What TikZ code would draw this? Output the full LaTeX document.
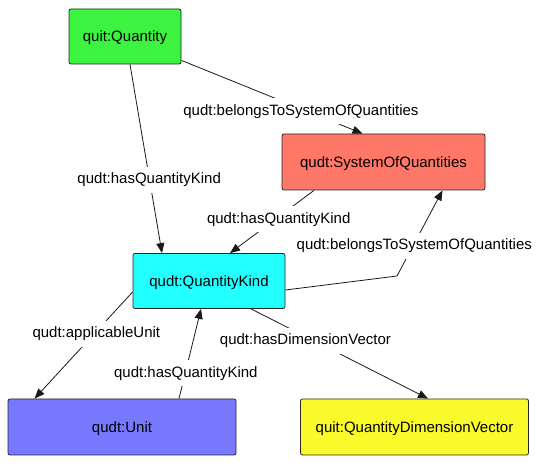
\documentclass[tikz,border=0pt]{standalone}
\usepackage{fontspec}
\setmainfont{Liberation Sans}
\usetikzlibrary{arrows.meta,calc}
\definecolor{cq}{HTML}{3CF33F}
\definecolor{csoq}{HTML}{FF7766}
\definecolor{cqk}{HTML}{22FFFF}
\definecolor{cunit}{HTML}{7878FF}
\definecolor{cqdv}{HTML}{FAFA2A}
\begin{document}
\begin{tikzpicture}[x=1pt,y=-1pt,
  box/.style={draw=black!85, line width=0.8pt, rounded corners=2pt, inner sep=0pt, text height=10.7pt, text depth=0pt, font=\fontsize{15}{18}\selectfont},
  rel/.style={draw=black!90, line width=0.8pt, -{Triangle[length=10pt,width=8pt]}},
  lbl/.style={fill=white, inner xsep=1pt, inner ysep=6pt, text height=10.7pt, text depth=3pt, yshift=-2.5pt, font=\fontsize{15}{18}\selectfont}]
\useasboundingbox (0,0) rectangle (544,470);
\node[box, fill=cq, minimum width=112pt, minimum height=55pt] (q) at (125,36.5) {quit:Quantity};
\node[box, fill=csoq, minimum width=203pt, minimum height=56pt] (soq) at (383.5,162) {qudt:SystemOfQuantities};
\node[box, fill=cqk, minimum width=152pt, minimum height=55pt] (qk) at (209,281) {qudt:QuantityKind};
\node[box, fill=cunit, minimum width=228pt, minimum height=56pt] (unit) at (122,427) {qudt:Unit};
\node[box, fill=cqdv, minimum width=228pt, minimum height=56pt] (qdv) at (414.5,427) {quit:QuantityDimensionVector};
% edges
\draw[rel] ($(q.south east)+(0,-4)$) -- node[lbl, pos=0.66] {qudt:belongsToSystemOfQuantities} ($(soq.north)+(-21,0)$);
\draw[rel] ($(q.south)+(5,0)$) -- node[lbl, pos=0.6] {qudt:hasQuantityKind} ($(qk.north)+(-47,0)$);
\draw[rel] ($(soq.south)+(-69.5,0)$) -- node[lbl, pos=0.42] {qudt:hasQuantityKind} ($(qk.north)+(21,0)$);
\coordinate (bend) at (397,276);
\draw[rel] ($(qk.east)+(0,9)$) -- (bend) -- node[lbl, pos=0.38] {qudt:belongsToSystemOfQuantities} ($(soq.south)+(59,0)$);
\draw[rel] ($(qk.west)+(0,11)$) -- node[lbl, pos=0.37] {qudt:applicableUnit} ($(unit.north west)+(27,0)$);
\draw[rel] ($(unit.north)+(57,0)$) -- node[lbl, pos=0.31] {qudt:hasQuantityKind} ($(qk.south)+(-8,0)$);
\draw[rel] ($(qk.south)+(42,0)$) -- node[lbl, pos=0.33, xshift=-4pt] {qudt:hasDimensionVector} ($(qdv.north)+(13.5,0)$);
\end{tikzpicture}
\end{document}
